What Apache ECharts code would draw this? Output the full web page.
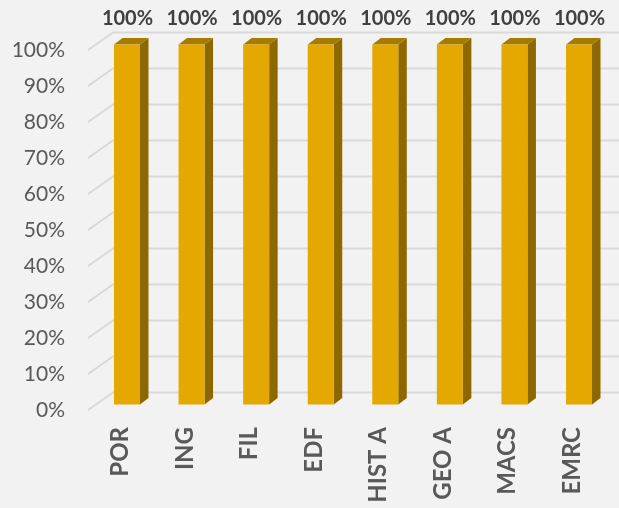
<!DOCTYPE html>
<html>
<head>
<meta charset="utf-8">
<script src="https://cdn.jsdelivr.net/npm/echarts@6/dist/echarts.min.js"></script>
<style>
html,body{margin:0;padding:0;background:#f2f2f2;}
#c{width:619px;height:508px;}
</style>
</head>
<body>
<div id="c"></div>
<script>
var categories = ['POR', 'ING', 'FIL', 'EDF', 'HIST A', 'GEO A', 'MACS', 'EMRC'];
var values = [100, 100, 100, 100, 100, 100, 100, 100];
var yTicks = [0, 10, 20, 30, 40, 50, 60, 70, 80, 90, 100];

var FONT = 'Lato, "Open Sans", sans-serif';
var WALL_DX = 25, WALL_DY = -17.5;
var BAR_OFF_X = 6.7, BAR_OFF_Y = -5.5, BAR_W = 26, BAR_DX = 8.5, BAR_DY = -6.5;

var chart = echarts.init(document.getElementById('c'));
chart.setOption({
  backgroundColor: '#f2f2f2',
  animation: false,
  grid: { left: 88, right: 14.4, top: 50, bottom: 98 },
  xAxis: {
    type: 'category',
    data: categories,
    axisLine: { show: false },
    axisTick: { show: false },
    axisLabel: { rotate: 90, margin: 17, fontFamily: FONT, fontSize: 24, fontWeight: 'bold', color: '#595959' }
  },
  yAxis: {
    type: 'value',
    min: 0, max: 100, interval: 10,
    axisLine: { show: false },
    axisTick: { show: false },
    splitLine: { show: false },
    axisLabel: { formatter: '{value}%', margin: 23, fontFamily: FONT, fontSize: 21, color: '#595959' }
  },
  series: [
    {
      type: 'custom',
      z: 1,
      data: yTicks.map(function (v) { return [0, v]; }),
      renderItem: function (params, api) {
        var cs = params.coordSys;
        var p = api.coord([0, api.value(1)]);
        var x0 = cs.x, y = p[1];
        return {
          type: 'polyline',
          shape: { points: [[x0, y], [x0 + WALL_DX, y + WALL_DY], [660, y + WALL_DY]] },
          style: { stroke: '#d9d9d9', lineWidth: 2, fill: null }
        };
      }
    },
    {
      type: 'custom',
      z: 2,
      data: values.map(function (v, i) { return [i, v]; }),
      renderItem: function (params, api) {
        var i = api.value(0), v = api.value(1);
        var pb = api.coord([i, 0]);
        var pt = api.coord([i, v]);
        var cx = pb[0] + BAR_OFF_X;
        var xl = cx - BAR_W / 2, xr = cx + BAR_W / 2;
        var yb = pb[1] + BAR_OFF_Y, yt = pt[1] + BAR_OFF_Y;
        return {
          type: 'group',
          children: [
            { type: 'polygon', shape: { points: [[xr, yb], [xr + BAR_DX, yb + BAR_DY], [xr + BAR_DX, yt + BAR_DY], [xr, yt]] }, style: { fill: '#8c6900' } },
            { type: 'polygon', shape: { points: [[xl, yt], [xl + BAR_DX, yt + BAR_DY], [xr + BAR_DX, yt + BAR_DY], [xr, yt]] }, style: { fill: '#a67c00' } },
            { type: 'rect', shape: { x: xl, y: yt, width: BAR_W, height: yb - yt }, style: { fill: '#e5a800' } },
            { type: 'text', style: { text: v + '%', x: cx + 0.5, y: 19, textAlign: 'center', textVerticalAlign: 'middle', fontFamily: FONT, fontSize: 20, fontWeight: 'bold', fill: '#404040' } }
          ]
        };
      }
    }
  ]
});
</script>
</body>
</html>
